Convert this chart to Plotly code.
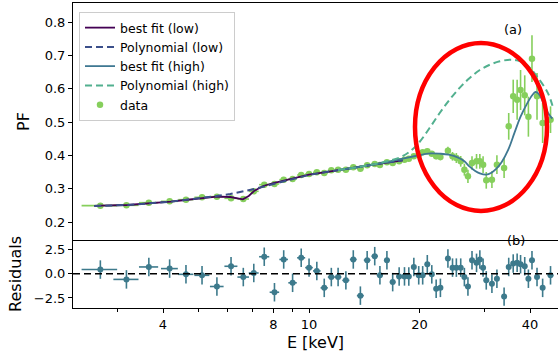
import numpy as np
import plotly.graph_objects as go
from plotly.subplots import make_subplots

# ---------------- data ----------------
energy = [2.70, 3.18, 3.66, 4.17, 4.62, 5.11, 5.61, 6.13, 6.62, 7.07,
          7.55, 8.05, 8.53, 9.02, 9.52, 10.0, 10.5, 11.0, 11.5, 12.0,
          12.6, 13.2, 13.8, 14.4, 15.1, 15.6, 16.3, 16.9, 17.6, 18.2,
          18.7, 19.3, 19.9, 20.4, 21.0, 21.6, 22.2, 22.8, 23.9, 24.6,
          25.2, 25.9, 26.5, 27.1, 27.8, 28.6, 29.2, 29.8, 30.4, 31.5,
          32.5, 34.0, 35.0, 36.0, 36.9, 37.7, 38.7, 39.6, 40.5, 41.8,
          43.3, 45.5]
energy_err_lo = [0.30, 0.25, 0.22, 0.22, 0.22, 0.24, 0.24, 0.25, 0.24, 0.22,
                 0.24, 0.24, 0.23, 0.24, 0.24, 0.24, 0.25, 0.25, 0.25, 0.25,
                 0.28, 0.28, 0.30, 0.30, 0.30, 0.30, 0.30, 0.30, 0.30, 0.25,
                 0.25, 0.25, 0.25, 0.25, 0.25, 0.25, 0.25, 0.25, 0.30, 0.30,
                 0.30, 0.30, 0.30, 0.30, 0.30, 0.30, 0.30, 0.30, 0.30, 0.30,
                 0.30, 0.40, 0.40, 0.40, 0.40, 0.40, 0.40, 0.40, 0.40, 0.50,
                 0.60, 0.80]
energy_err_hi = energy_err_lo

pf = [0.249, 0.250, 0.258, 0.262, 0.267, 0.274, 0.276, 0.271, 0.269, 0.292,
      0.312, 0.314, 0.327, 0.329, 0.341, 0.344, 0.349, 0.347, 0.355, 0.357,
      0.357, 0.364, 0.360, 0.370, 0.374, 0.371, 0.379, 0.377, 0.382, 0.387,
      0.390, 0.397, 0.402, 0.409, 0.412, 0.405, 0.397, 0.395, 0.414, 0.397,
      0.392, 0.382, 0.357, 0.337, 0.377, 0.382, 0.382, 0.372, 0.325, 0.327,
      0.372, 0.362, 0.487, 0.577, 0.567, 0.596, 0.580, 0.516, 0.690, 0.577,
      0.497, 0.507]
pf_err = [0.004, 0.004, 0.004, 0.004, 0.004, 0.004, 0.004, 0.004, 0.004, 0.004,
          0.004, 0.004, 0.004, 0.004, 0.004, 0.004, 0.004, 0.004, 0.004, 0.004,
          0.004, 0.004, 0.004, 0.004, 0.004, 0.004, 0.005, 0.005, 0.005, 0.005,
          0.006, 0.006, 0.006, 0.007, 0.008, 0.008, 0.009, 0.010, 0.012, 0.013,
          0.015, 0.016, 0.018, 0.020, 0.020, 0.022, 0.022, 0.025, 0.025, 0.025,
          0.028, 0.030, 0.040, 0.050, 0.060, 0.060, 0.060, 0.060, 0.070, 0.070,
          0.060, 0.040]

residual = [0.42, -0.59, 0.69, 0.52, -0.07, -0.17, -1.32, 0.76, -0.35, 0.07,
            1.74, -1.91, 1.46, -0.94, 1.63, 0.62, 0.28, -1.46, -0.35, -0.35,
            -0.69, 1.46, -2.26, 1.39, 1.80, -0.17, 1.39, -0.87, -0.28, -0.28,
            -0.28, 0.69, -0.17, -0.17, 0.97, -0.07, -1.56, -1.46, 1.56, 0.62,
            0.62, 0.62, -0.35, -1.32, 1.39, 1.11, 1.46, 0.62, -0.69, -1.04,
            -0.52, -2.36, 0.69, 1.04, 1.11, 0.97, 0.76, -0.52, 1.39, -0.35,
            -1.46, -0.17]
residual_err = [0.95] * len(residual)

# model curves
fit_low_e = [2.6, 2.7, 3.2, 3.7, 4.2, 4.6, 5.1, 5.6, 6.1, 6.35, 6.6, 6.85,
             7.1, 7.5, 8.0, 9.0, 10.0, 11.0, 12.0, 13.0, 14.0, 15.0, 16.0,
             17.0, 18.0]
fit_low_pf = [0.248, 0.249, 0.251, 0.256, 0.261, 0.266, 0.272, 0.276, 0.275,
              0.271, 0.268, 0.278, 0.294, 0.308, 0.317, 0.330, 0.342, 0.349,
              0.356, 0.362, 0.367, 0.372, 0.377, 0.381, 0.385]
poly_low_e = [2.6, 3.2, 4.2, 5.1, 5.6, 6.1, 6.6, 7.1, 7.5, 8.0, 9.0, 10.0,
              11.0, 12.0, 13.0, 14.0, 15.0, 16.0, 17.0, 18.0]
poly_low_pf = [0.248, 0.251, 0.261, 0.271, 0.278, 0.284, 0.291, 0.299, 0.306,
               0.314, 0.329, 0.341, 0.349, 0.356, 0.362, 0.367, 0.372, 0.377,
               0.381, 0.385]
fit_high_e = [12.0, 14.0, 16.0, 18.0, 19.5, 20.5, 21.5, 22.7, 24.0, 25.5,
              26.5, 27.4, 28.3, 29.2, 30.4, 31.4, 32.4, 33.5, 34.9, 36.3,
              37.7, 39.3, 40.6, 41.4, 42.2, 43.6, 44.8, 46.0]
fit_high_pf = [0.356, 0.367, 0.378, 0.390, 0.398, 0.403, 0.406, 0.405, 0.402,
               0.393, 0.382, 0.366, 0.354, 0.346, 0.342, 0.348, 0.360, 0.380,
               0.417, 0.468, 0.516, 0.556, 0.581, 0.590, 0.585, 0.556, 0.527,
               0.510]
poly_high_e = [12.0, 14.0, 16.0, 17.7, 19.0, 20.0, 21.3, 22.7, 24.2, 25.8,
               27.4, 29.2, 31.1, 33.1, 35.3, 36.9, 38.6, 40.0, 42.1, 44.8,
               46.3]
poly_high_pf = [0.356, 0.367, 0.380, 0.394, 0.415, 0.440, 0.482, 0.527, 0.568,
                0.604, 0.632, 0.656, 0.672, 0.682, 0.687, 0.685, 0.677, 0.662,
                0.632, 0.586, 0.540]

# ---------------- style ----------------
C_FIT_LOW = "#440154"
C_POLY_LOW = "#3b4f8a"
C_FIT_HIGH = "#3f7892"
C_POLY_HIGH = "#52b08f"
C_DATA = "#86cf5c"
C_RES = "#3d7a8c"
FONT = "DejaVu Sans"

W, H = 558, 356
ML, MR, MT, MB = 73, 0, 3, 48
PW, PH = W - ML - MR, H - MT - MB
split_px = 240  # boundary between panels (pixels from top)
frac = (H - MB - split_px) / PH

fig = make_subplots(rows=2, cols=1, shared_xaxes=True, vertical_spacing=0,
                    row_heights=[1 - frac, frac])

fig.add_trace(go.Scatter(
    x=energy, y=pf, mode="markers", name="data",
    marker=dict(color=C_DATA, size=6.5),
    error_y=dict(type="data", array=pf_err, color=C_DATA, thickness=1.6, width=0),
    error_x=dict(type="data", array=energy_err_hi, arrayminus=energy_err_lo,
                 color=C_DATA, thickness=1.6, width=0),
    legendrank=5), row=1, col=1)

fig.add_trace(go.Scatter(x=fit_low_e, y=fit_low_pf, mode="lines",
                         name="best fit (low)", line=dict(color=C_FIT_LOW, width=1.8),
                         legendrank=1), row=1, col=1)
fig.add_trace(go.Scatter(x=poly_low_e, y=poly_low_pf, mode="lines",
                         name="Polynomial (low)",
                         line=dict(color=C_POLY_LOW, width=2, dash="7px,4px"),
                         legendrank=2), row=1, col=1)
fig.add_trace(go.Scatter(x=fit_high_e, y=fit_high_pf, mode="lines",
                         name="best fit (high)", line=dict(color=C_FIT_HIGH, width=1.8),
                         line_shape="spline", legendrank=3), row=1, col=1)
fig.add_trace(go.Scatter(x=poly_high_e, y=poly_high_pf, mode="lines",
                         name="Polynomial (high)",
                         line=dict(color=C_POLY_HIGH, width=2, dash="7px,4px"),
                         line_shape="spline", legendrank=4), row=1, col=1)

fig.add_trace(go.Scatter(
    x=energy, y=residual, mode="markers", showlegend=False,
    marker=dict(color=C_RES, size=6),
    error_y=dict(type="data", array=residual_err, color=C_RES, thickness=1.6, width=0),
    error_x=dict(type="data", array=energy_err_hi, arrayminus=energy_err_lo,
                 color=C_RES, thickness=1.6, width=0)), row=2, col=1)

xr = [np.log10(4) - (163 - ML) / 367.0, np.log10(4) - (163 - ML) / 367.0 + PW / 367.0]
tick_vals = [4, 8, 10, 20, 40]
tick_text = ["4", "8", "10", "20", "40"]
minor_vals = [3, 5, 6, 7, 9, 30]

axis_common = dict(showgrid=False, zeroline=False, showline=True, linecolor="black",
                   linewidth=1, tickcolor="black", tickfont=dict(family=FONT, size=13, color="black"))

fig.update_xaxes(type="log", range=xr, **axis_common)
fig.update_xaxes(row=1, col=1, mirror=True, ticks="", showticklabels=False)
fig.update_xaxes(row=2, col=1, mirror=False, ticks="outside", ticklen=4,
                 tickvals=tick_vals, ticktext=tick_text,
                 minor=dict(tickvals=minor_vals, ticks="outside", ticklen=2.5, tickcolor="black"),
                 title=dict(text="E [keV]", font=dict(family=FONT, size=16, color="black"), standoff=6))

fig.update_yaxes(row=1, col=1, range=[0.146, 0.857], tickvals=[0.2, 0.3, 0.4, 0.5, 0.6, 0.7, 0.8],
                 ticktext=["0.2", "0.3", "0.4", "0.5", "0.6", "0.7", "0.8"],
                 ticks="outside", ticklen=4, **axis_common,
                 title=dict(text="PF", font=dict(family=FONT, size=16, color="black"), standoff=11))
fig.update_yaxes(row=2, col=1, range=[-3.53, 3.46], tickvals=[-2.5, 0, 2.5],
                 ticktext=["\u22122.5", "0.0", "2.5"],
                 ticks="outside", ticklen=4, **axis_common,
                 title=dict(text="Residuals", font=dict(family=FONT, size=16, color="black"), standoff=8))

def px_x(p):
    return (p - ML) / PW

def px_y(p):
    return (H - MB - p) / PH

# zero line in residual panel
fig.add_shape(type="line", xref="x2 domain", yref="y2", x0=0, x1=1, y0=0, y1=0,
              line=dict(color="black", width=1.5, dash="7px,4px"))
# red ellipse
fig.add_shape(type="circle", xref="paper", yref="paper",
              x0=px_x(415), x1=px_x(547), y0=px_y(211), y1=px_y(43),
              line=dict(color="#ff0000", width=4.5))

fig.add_annotation(text="(a)", xref="paper", yref="paper", x=px_x(524), y=px_y(20),
                   showarrow=False, font=dict(family=FONT, size=13, color="black"))
fig.add_annotation(text="(b)", xref="paper", yref="paper", x=px_x(527), y=px_y(250),
                   showarrow=False, font=dict(family=FONT, size=13, color="black"))

fig.update_layout(
    width=W, height=H, margin=dict(l=ML, r=MR, t=MT, b=MB),
    plot_bgcolor="white", paper_bgcolor="white",
    legend=dict(x=px_x(79), y=px_y(12), xanchor="left", yanchor="top",
                bgcolor="rgba(255,255,255,0.8)", bordercolor="#cccccc", borderwidth=1,
                font=dict(family=FONT, size=12.5, color="black"),
                tracegroupgap=0, itemwidth=30),
    font=dict(family=FONT),
)

fig.write_html("out.html")
